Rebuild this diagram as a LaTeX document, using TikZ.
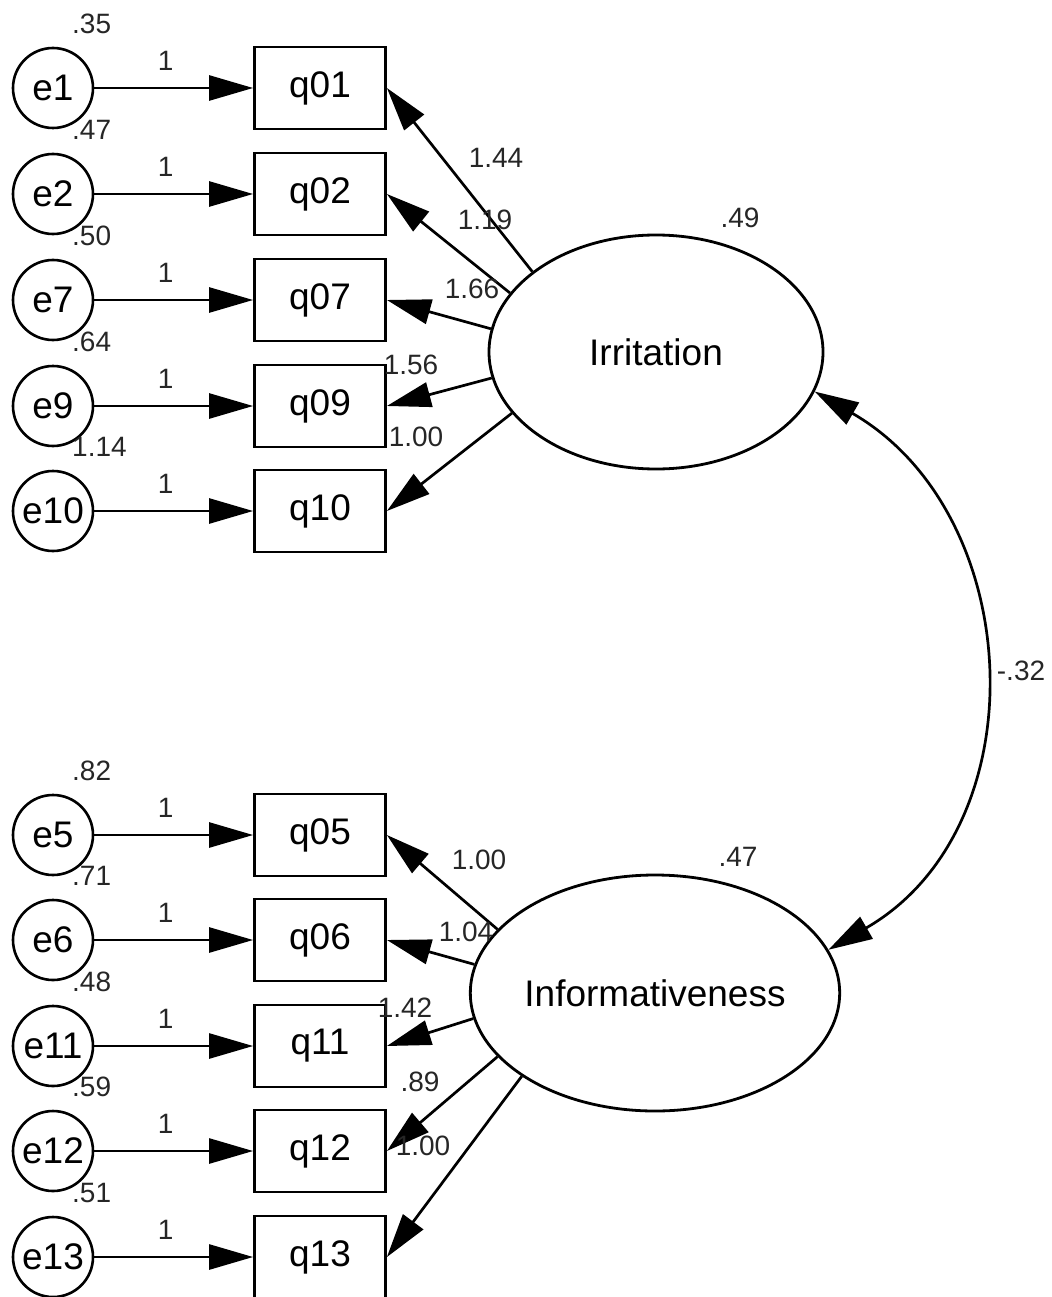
\documentclass[tikz,border=0pt]{standalone}
\usepackage{fontspec}
\setmainfont{Liberation Sans}
\usetikzlibrary{arrows.meta,shapes.geometric}

\begin{document}
\begin{tikzpicture}[x=1pt, y=-1pt,
        err/.style={draw, circle, line width=2.6pt, minimum size=80pt, inner sep=0pt, font=\fontsize{37}{40}\selectfont},
        obs/.style={draw, rectangle, line width=2.8pt, minimum width=131pt, minimum height=82pt, inner sep=0pt, font=\fontsize{37}{40}\selectfont},
        lat/.style={draw, ellipse, line width=2.8pt, inner sep=0pt, font=\fontsize{37}{40}\selectfont},
        num/.style={font=\fontsize{28}{30}\selectfont, text=black!85, inner sep=0pt},
        arr/.style={line width=2.7pt, -{Triangle[length=44pt,width=25pt]}}]
    \useasboundingbox (0,0) rectangle (1051,1297);
    % indicators with their error terms
    \foreach \e/\q/\v/\y in {1/01/.35/88, 2/02/.47/194, 7/07/.50/300, 9/09/.64/406, 10/10/1.14/511,
                             5/05/.82/835, 6/06/.71/940, 11/11/.48/1046, 12/12/.59/1151, 13/13/.51/1257} {
        \node[err] (e\e) at (53,\y) {e\e};
        \node[obs] (q\q) at (320,\y) {q\q};
        \node[num, anchor=west] (v\e) at (72,\y-64) {\v};
        \draw[arr] (e\e) -- node[num, pos=0.45, yshift=27pt] (w\e) {1} (q\q);
    }
    % latent factors
    \node[lat, minimum width=334pt, minimum height=234pt] (irr) at (656,352) {Irritation};
    \node[lat, minimum width=344pt, minimum height=236pt] (inf) at (655,993) {Informativeness};
    \node[num] (virr) at (740,218) {.49};
    \node[num] (vinf) at (738,857) {.47};
    % loadings
    \foreach \q/\a/\v/\lx/\ly in {01/147/1.44/496/158, 02/158/1.19/485/220, 07/172/1.66/472/289,
                                  09/189/1.56/411/365, 10/203/1.00/416/437} {
        \draw[arr] (irr.\a) -- (q\q.east);
        \node[num] (l\q) at (\lx,\ly) {\v};
    }
    \foreach \q/\a/\v/\lx/\ly in {05/158.5/1.00/479/860, 06/171.5/1.04/466/932, 11/188.4/1.42/405/1008,
                                  12/202/.89/420/1082, 13/212/1.00/423/1146} {
        \draw[arr] (inf.\a) -- (q\q.east);
        \node[num] (l\q) at (\lx,\ly) {\v};
    }
    % covariance
    \draw[line width=2.7pt, {Triangle[length=44pt,width=25pt]}-{Triangle[length=44pt,width=25pt]}]
        (irr.-14) to[out=-30, in=30, looseness=1.12] node[num, right=15pt] (cov) {-.32} (inf.14);
\end{tikzpicture}
\end{document}
